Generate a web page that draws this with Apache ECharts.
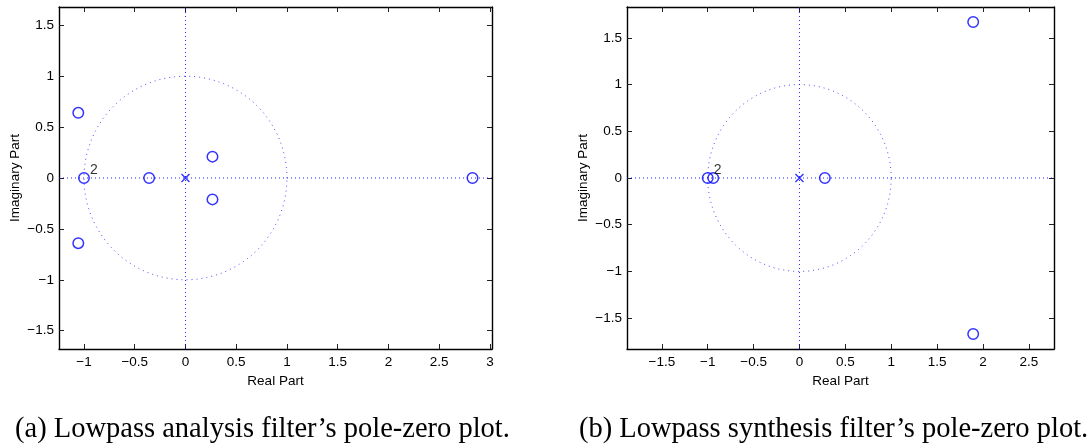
<!DOCTYPE html>
<html>
<head>
<meta charset="utf-8">
<script src="https://cdn.jsdelivr.net/npm/echarts@6/dist/echarts.min.js"></script>
<style>html,body{margin:0;padding:0;background:#fff;}#c{width:1091px;height:447px;}</style>
</head>
<body>
<div id="c"></div>
<script>
// ---- Data ----
// (a) Lowpass analysis filter
var zerosA_re = [-1.056, -1.056, -1.0, -0.358, 0.266, 0.266, 2.828];
var zerosA_im = [0.64, -0.64, 0, 0, 0.21, -0.21, 0];
var zerosA_mult = [1, 1, 2, 1, 1, 1, 1];
var polesA_re = [0];
var polesA_im = [0];
// (b) Lowpass synthesis filter
var zerosB_re = [-1.0, -0.94, 0.277, 1.894, 1.894];
var zerosB_im = [0, 0, 0, 1.669, -1.669];
var zerosB_mult = [2, 1, 1, 1, 1];
var polesB_re = [0];
var polesB_im = [0];
// Tick labels
var xTicksA = [-1, -0.5, 0, 0.5, 1, 1.5, 2, 2.5, 3];
var yTicksA = [-1.5, -1, -0.5, 0, 0.5, 1, 1.5];
var xTicksB = [-1.5, -1, -0.5, 0, 0.5, 1, 1.5, 2, 2.5];
var yTicksB = [-1.5, -1, -0.5, 0, 0.5, 1, 1.5];
var xRangeA = [-1.246, 3.02], yRangeA = [-1.68, 1.68];
var xRangeB = [-1.88, 2.775], yRangeB = [-1.83, 1.83];
var xName = 'Real Part', yName = 'Imaginary Part';
var captionA = '(a) Lowpass analysis filter\u2019s pole-zero plot.';
var captionB = '(b) Lowpass synthesis filter\u2019s pole-zero plot.';

var BLUE = '#0000ff';
var FONT = '"Liberation Sans", Arial, sans-serif';
function fmt(v){ return String(v).replace('-', '\u2212'); }

function xAxes(grid, range, ticks){
  var base = {
    gridIndex: grid, type: 'value', min: range[0], max: range[1],
    splitLine: {show: false},
    axisLine: {show: true, onZero: false, lineStyle: {color: '#000', width: 1.4}},
    axisTick: {show: true, inside: true, length: 5, customValues: ticks, lineStyle: {color: '#222', width: 1}}
  };
  var bottom = Object.assign({}, base, {
    position: 'bottom', name: xName, nameLocation: 'middle', nameGap: 21,
    nameTextStyle: {fontFamily: FONT, fontSize: 13.5, color: '#000'},
    axisLabel: {show: true, customValues: ticks, formatter: fmt, margin: 6, fontFamily: FONT, fontSize: 13.5, color: '#000'}
  });
  var top = Object.assign({}, base, {position: 'top', axisLabel: {show: false}});
  return [bottom, top];
}
function yAxes(grid, range, ticks){
  var base = {
    gridIndex: grid, type: 'value', min: range[0], max: range[1],
    splitLine: {show: false},
    axisLine: {show: true, onZero: false, lineStyle: {color: '#000', width: 1.4}},
    axisTick: {show: true, inside: true, length: 5, customValues: ticks, lineStyle: {color: '#222', width: 1}}
  };
  var left = Object.assign({}, base, {
    position: 'left', name: yName, nameLocation: 'middle', nameGap: 37, nameRotate: 90,
    nameTextStyle: {fontFamily: FONT, fontSize: 13.5, color: '#000'},
    axisLabel: {show: true, customValues: ticks, formatter: fmt, margin: 5, fontFamily: FONT, fontSize: 13.5, color: '#000'}
  });
  var right = Object.assign({}, base, {position: 'right', axisLabel: {show: false}});
  return [left, right];
}

function zeroData(re, im, mult){
  return re.map(function(x, i){
    var d = {value: [x, im[i]]};
    if (mult[i] > 1) {
      d.label = {show: true, formatter: String(mult[i]), position: 'right', distance: 0, offset: [0, -8],
                 fontFamily: FONT, fontSize: 14, color: '#000'};
    }
    return d;
  });
}
function poleData(re, im){ return re.map(function(x, i){ return [x, im[i]]; }); }

// unit circle + dotted real / imaginary axes (reference geometry)
function guideSeries(idx, xr, yr){
  return {
    type: 'custom', xAxisIndex: idx, yAxisIndex: idx, silent: true, z: 1,
    data: [[0, 0]],
    renderItem: function(params, api){
      var pts = [];
      for (var k = 0; k <= 360; k += 2) {
        var t = k * Math.PI / 180;
        pts.push(api.coord([Math.cos(t), Math.sin(t)]));
      }
      var h0 = api.coord([xr[0], 0]), h1 = api.coord([xr[1], 0]);
      var v0 = api.coord([0, yr[0]]), v1 = api.coord([0, yr[1]]);
      var axStyle = {stroke: BLUE, lineWidth: 1, lineDash: [1, 3], opacity: 0.85};
      return {type: 'group', children: [
        {type: 'polyline', shape: {points: pts},
         style: {stroke: BLUE, fill: 'none', lineWidth: 1, lineDash: [1, 4], opacity: 0.7}},
        {type: 'line', shape: {x1: h0[0], y1: h0[1], x2: h1[0], y2: h1[1]}, style: axStyle},
        {type: 'line', shape: {x1: v0[0], y1: v0[1], x2: v1[0], y2: v1[1]}, style: axStyle}
      ]};
    }
  };
}
function zeroSeries(idx, data){
  return {
    type: 'scatter', xAxisIndex: idx, yAxisIndex: idx, z: 3,
    symbol: 'circle', symbolSize: 10.5, data: data,
    itemStyle: {color: 'rgba(0,0,0,0)', borderColor: BLUE, borderWidth: 1.5},
    emphasis: {disabled: true}
  };
}
function poleSeries(idx, data){
  return {
    type: 'scatter', xAxisIndex: idx, yAxisIndex: idx, z: 3,
    symbol: 'path://M0,0L10,10M10,0L0,10', symbolSize: 8, data: data,
    itemStyle: {color: 'rgba(0,0,0,0)', borderColor: BLUE, borderWidth: 1.4},
    emphasis: {disabled: true}
  };
}

var chart = echarts.init(document.getElementById('c'), null, {renderer: 'canvas'});
var capStyle = {fontFamily: '"Liberation Serif", "Times New Roman", serif', fontSize: 28.5, fontWeight: 'normal', color: '#000'};
chart.setOption({
  animation: false,
  backgroundColor: '#fff',
  title: [
    {text: captionA, left: 15, top: 415, padding: 0, textStyle: capStyle},
    {text: captionB, left: 579, top: 415, padding: 0, textStyle: capStyle}
  ],
  grid: [
    {left: 59, top: 7, width: 433, height: 342},
    {left: 627, top: 7, width: 427, height: 342}
  ],
  xAxis: xAxes(0, xRangeA, xTicksA).concat(xAxes(1, xRangeB, xTicksB)),
  yAxis: yAxes(0, yRangeA, yTicksA).concat(yAxes(1, yRangeB, yTicksB)),
  series: [
    guideSeries(0, xRangeA, yRangeA),
    zeroSeries(0, zeroData(zerosA_re, zerosA_im, zerosA_mult)),
    poleSeries(0, poleData(polesA_re, polesA_im)),
    guideSeries(2, xRangeB, yRangeB),
    zeroSeries(2, zeroData(zerosB_re, zerosB_im, zerosB_mult)),
    poleSeries(2, poleData(polesB_re, polesB_im))
  ]
});
</script>
</body>
</html>
